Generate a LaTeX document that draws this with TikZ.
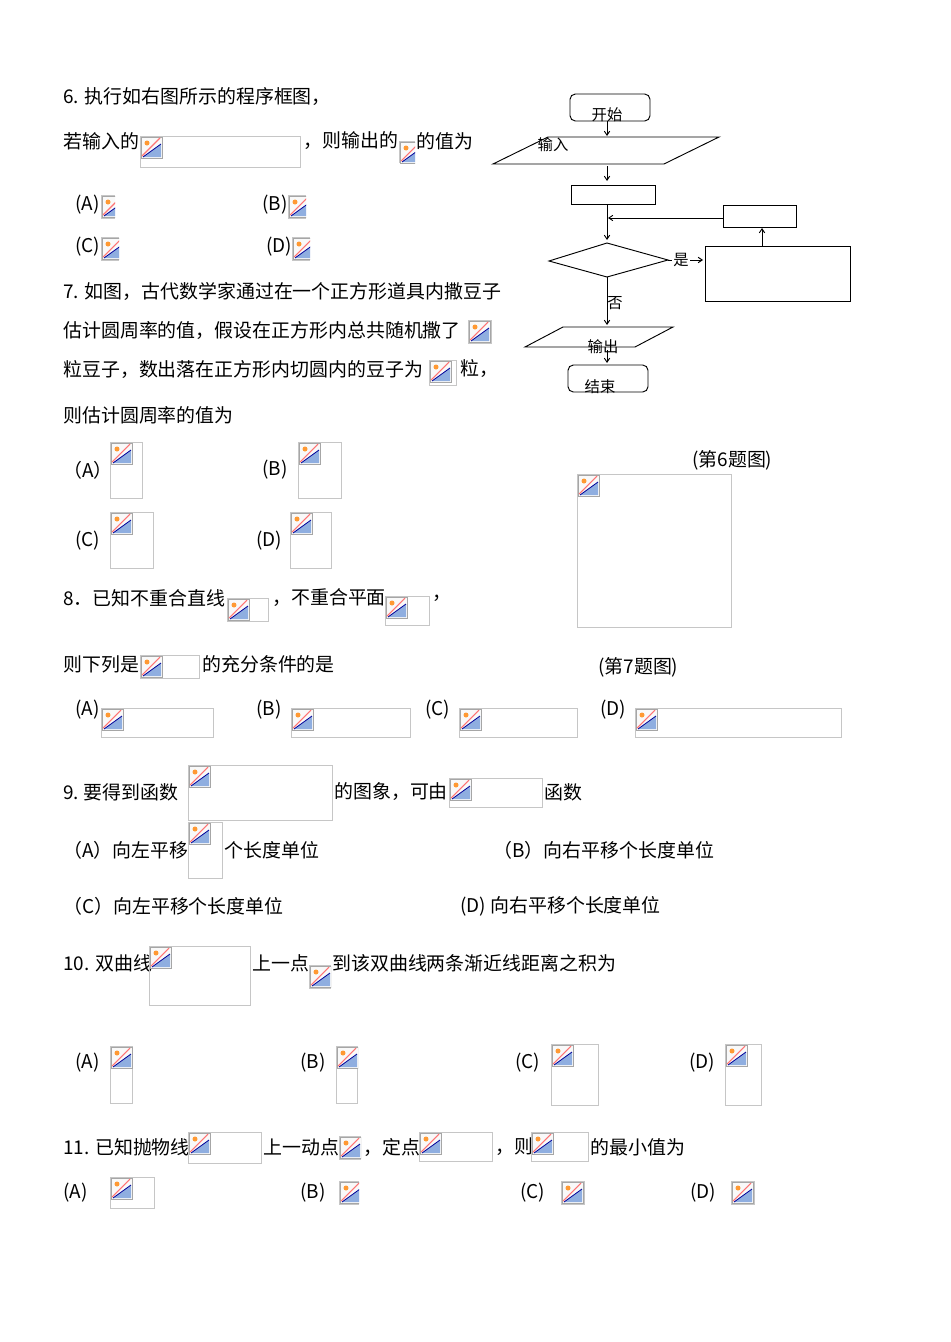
\documentclass[tikz,border=0pt]{standalone}
\usepackage{fontspec}
\setmainfont{Liberation Serif}
\newfontfamily\cjk{Noto Sans CJK SC}
\usetikzlibrary{arrows.meta}
\newcommand\brk[4]{%
\begin{scope}
\clip (#1,#2) rectangle ++(#3,#4);
\draw[gray!45] (#1+0.5,#2+0.5) rectangle ++(#3-1,#4-1);
\begin{scope}[shift={(#1,#2)}]
\fill[gray!5] (1,1) rectangle (22,22);
\draw[gray!70,line width=0.6pt] (1,1) rectangle (22,22);
\fill[cyan!50!blue!45] (3,21)--(21,8)--(21,21)--cycle;
\draw[blue!60!black,line width=0.6pt] (3,21)--(21,8);
\fill[orange!80] (7,7) circle[radius=2.5];
\draw[red!55,line width=0.8pt] (2,20)--(20,2);
\end{scope}
\end{scope}}
\begin{document}
\begin{tikzpicture}[x=0.75pt,y=-0.75pt,
 txt/.style={anchor=west,inner sep=0pt,font=\cjk\fontsize{14.2}{16}\selectfont},
 fl/.style={line width=0.7pt},
 ar/.style={line width=0.7pt,-{Straight Barb[length=3pt,width=4pt]}},
 ft/.style={inner sep=0pt,font=\cjk\fontsize{11.5}{13}\selectfont}]
\useasboundingbox[fill=white] (0,0) rectangle (950,1342);
% Q6
\node[txt] (t1) at (63,97) {6. 执行如右图所示的程序框图，};
\node[txt] (t2) at (63,141) {若输入的};
\brk{140}{136}{161}{32}
\node[txt] (t3) at (303,141) {，则输出的};
\brk{399}{141}{16}{22}
\node[txt] (t4) at (416,141) {的值为};
\node[txt] at (75,205) {(A)}; \brk{101}{195}{14}{24}
\node[txt] at (262,205) {(B)}; \brk{288}{195}{18}{24}
\node[txt] at (75,247) {(C)}; \brk{101}{237}{18}{24}
\node[txt] at (266,247) {(D)}; \brk{292}{237}{18}{24}
% Q7
\node[txt] at (63,291) {7. 如图，古代数学家通过在一个正方形道具内撒豆子};
\node[txt] at (63,330) {估计圆周率的值，假设在正方形内总共随机撒了};
\brk{468}{320}{24}{24}
\node[txt] at (63,369) {粒豆子，数出落在正方形内切圆内的豆子为};
\brk{429}{360}{28}{26}
\node[txt] at (460,369) {粒，};
\node[txt] at (63,415) {则估计圆周率的值为};
\node[txt] at (63,470) {（A）}; \brk{110}{442}{33}{57}
\node[txt] at (262,470) {(B)}; \brk{298}{442}{44}{57}
\node[txt] at (75,541) {(C)}; \brk{110}{512}{44}{57}
\node[txt] at (256,541) {(D)}; \brk{290}{512}{42}{57}
\node[txt] at (692,460) {(第6题图)};
\brk{577}{474}{155}{154}
\node[txt] at (598,667) {(第7题图)};
% Q8
\node[txt] at (63,598) {8．已知不重合直线};
\brk{227}{598}{42}{24}
\node[txt] at (272,598) {，不重合平面};
\brk{385}{596}{45}{30}
\node[txt] at (432,598) {，};
\node[txt] at (63,664) {则下列是};
\brk{140}{655}{60}{24}
\node[txt] at (202,664) {的充分条件的是};
\node[txt] at (75,710) {(A)}; \brk{101}{708}{113}{30}
\node[txt] at (256,710) {(B)}; \brk{291}{708}{120}{30}
\node[txt] at (425,710) {(C)}; \brk{459}{708}{119}{30}
\node[txt] at (600,710) {(D)}; \brk{635}{708}{207}{30}
% Q9
\node[txt] at (63,792) {9.\ 要得到函数};
\brk{188}{765}{145}{56}
\node[txt] at (334,792) {的图象，可由};
\brk{449}{778}{94}{30}
\node[txt] at (544,792) {函数};
\node[txt] at (63,850) {（A）向左平移};
\brk{188}{822}{35}{57}
\node[txt] at (224,850) {个长度单位};
\node[txt] at (493,850) {（B）向右平移个长度单位};
\node[txt] at (63,906) {（C）向左平移个长度单位};
\node[txt] at (460,906) {(D)\ 向右平移个长度单位};
% Q10
\node[txt] at (63,963) {10. 双曲线};
\brk{149}{946}{102}{60}
\node[txt] at (252,963) {上一点};
\brk{309}{965}{22}{24}
\node[txt] at (332,963) {到该双曲线两条渐近线距离之积为};
\node[txt] at (75,1063) {(A)}; \brk{110}{1046}{23}{58}
\node[txt] at (300,1063) {(B)}; \brk{336}{1046}{22}{58}
\node[txt] at (515,1063) {(C)}; \brk{551}{1044}{48}{62}
\node[txt] at (689,1063) {(D)}; \brk{725}{1044}{37}{62}
% Q11
\node[txt] at (63,1147) {11. 已知抛物线};
\brk{188}{1132}{74}{32}
\node[txt] at (263,1147) {上一动点};
\brk{339}{1136}{22}{24}
\node[txt] at (363,1147) {，定点};
\brk{419}{1132}{74}{30}
\node[txt] at (495,1147) {，则};
\brk{531}{1132}{58}{30}
\node[txt] at (590,1147) {的最小值为};
\node[txt] at (63,1193) {(A)}; \brk{110}{1177}{45}{32}
\node[txt] at (300,1193) {(B)}; \brk{339}{1181}{20}{24}
\node[txt] at (520,1193) {(C)}; \brk{561}{1181}{24}{24}
\node[txt] at (690,1193) {(D)}; \brk{731}{1181}{24}{24}
% flowchart
\draw[fl,rounded corners=4pt] (570,94) rectangle (650,121);
\node[ft] (start) at (607,115) {开始};
\draw[fl] (548,137)--(719,137)--(664,164)--(493,164)--cycle;
\node[ft] (in) at (553,145) {输入};
\draw[ar] (607,121)--(607,136);
\draw[ar] (607,166)--(607,181);
\draw[fl] (571,185) rectangle (655,204);
\draw[ar] (607,204)--(607,240);
\draw[fl] (723,205) rectangle (796,227);
\draw[ar] (723,218)--(608,218);
\draw[fl] (607,243)--(668,260)--(607,277)--(549,261)--cycle;
\draw[fl] (705,246) rectangle (850,301);
\draw[ar] (762,246)--(762,228);
\draw[ar] (668,260)--(703,260);
\node[ft,fill=white,inner sep=1pt] (yes) at (681,260) {是};
\draw[ar] (607,277)--(607,325);
\node[ft] (no) at (615,303) {否};
\draw[fl] (563,327)--(673,327)--(635,347)--(525,347)--cycle;
\node[ft] (out) at (603,347) {输出};
\draw[ar] (607,350)--(607,363);
\draw[fl,rounded corners=4pt] (568,365) rectangle (648,392);
\node[ft] (end) at (600,387) {结束};
\end{tikzpicture}
\end{document}
